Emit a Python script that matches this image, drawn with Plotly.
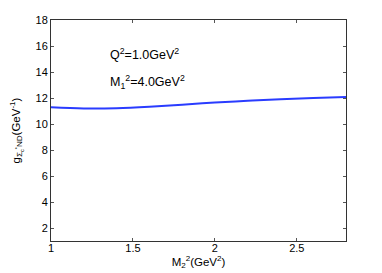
import plotly.graph_objects as go

m2_sq = [1.0, 1.2, 1.4, 1.6, 1.8, 2.0, 2.2, 2.4, 2.6, 2.8]
g_coupling = [11.28, 11.20, 11.22, 11.33, 11.49, 11.65, 11.79, 11.91, 12.00, 12.08]

x_ticks = [1, 1.5, 2, 2.5]
x_tick_labels = ["1", "1.5", "2", "2.5"]
y_ticks = [2, 4, 6, 8, 10, 12, 14, 16, 18]

font_family = "Liberation Sans, Arial, sans-serif"

fig = go.Figure()
fig.add_trace(go.Scatter(x=m2_sq, y=g_coupling, mode="lines",
                         line=dict(color="#2a3cff", width=2, shape="spline"),
                         showlegend=False))

fig.add_annotation(x=1.345, y=15.4, xref="x", yref="y", xanchor="left",
                   text="Q<sup>2</sup>=1.0GeV<sup>2</sup>", showarrow=False,
                   font=dict(size=12.5, color="black", family=font_family))
fig.add_annotation(x=1.345, y=13.2, xref="x", yref="y", xanchor="left",
                   text="M<sub>1</sub><sup>2</sup>=4.0GeV<sup>2</sup>", showarrow=False,
                   font=dict(size=12.5, color="black", family=font_family))

axis_common = dict(showline=True, linecolor="#333333", linewidth=1, mirror="ticks",
                   ticks="inside", ticklen=3, tickcolor="#555555", showgrid=False,
                   zeroline=False, automargin=False,
                   tickfont=dict(size=11, color="black", family=font_family))

fig.update_xaxes(range=[1, 2.8], tickvals=x_ticks, ticktext=x_tick_labels,
                 ticklabelstandoff=-3,
                 title=dict(text="M<sub>2</sub><sup>2</sup>(GeV<sup>2</sup>)", standoff=3,
                            font=dict(size=11.5, color="black", family=font_family)),
                 **axis_common)
fig.update_yaxes(range=[1, 18], tickvals=y_ticks,
                 title=dict(text="g<sub>Σ<sub>c</sub><sup>*</sup>ND</sub>(GeV<sup>-1</sup>)", standoff=13,
                            font=dict(size=11.5, color="black", family=font_family)),
                 **axis_common)

# page body has an 8px default margin, so the figure is shrunk by 8px and margins compensated
fig.update_layout(width=374, height=265, margin=dict(l=43, r=36, t=12, b=32),
                  paper_bgcolor="white", plot_bgcolor="white",
                  font=dict(family=font_family, color="black"))

fig.write_html("out.html")
